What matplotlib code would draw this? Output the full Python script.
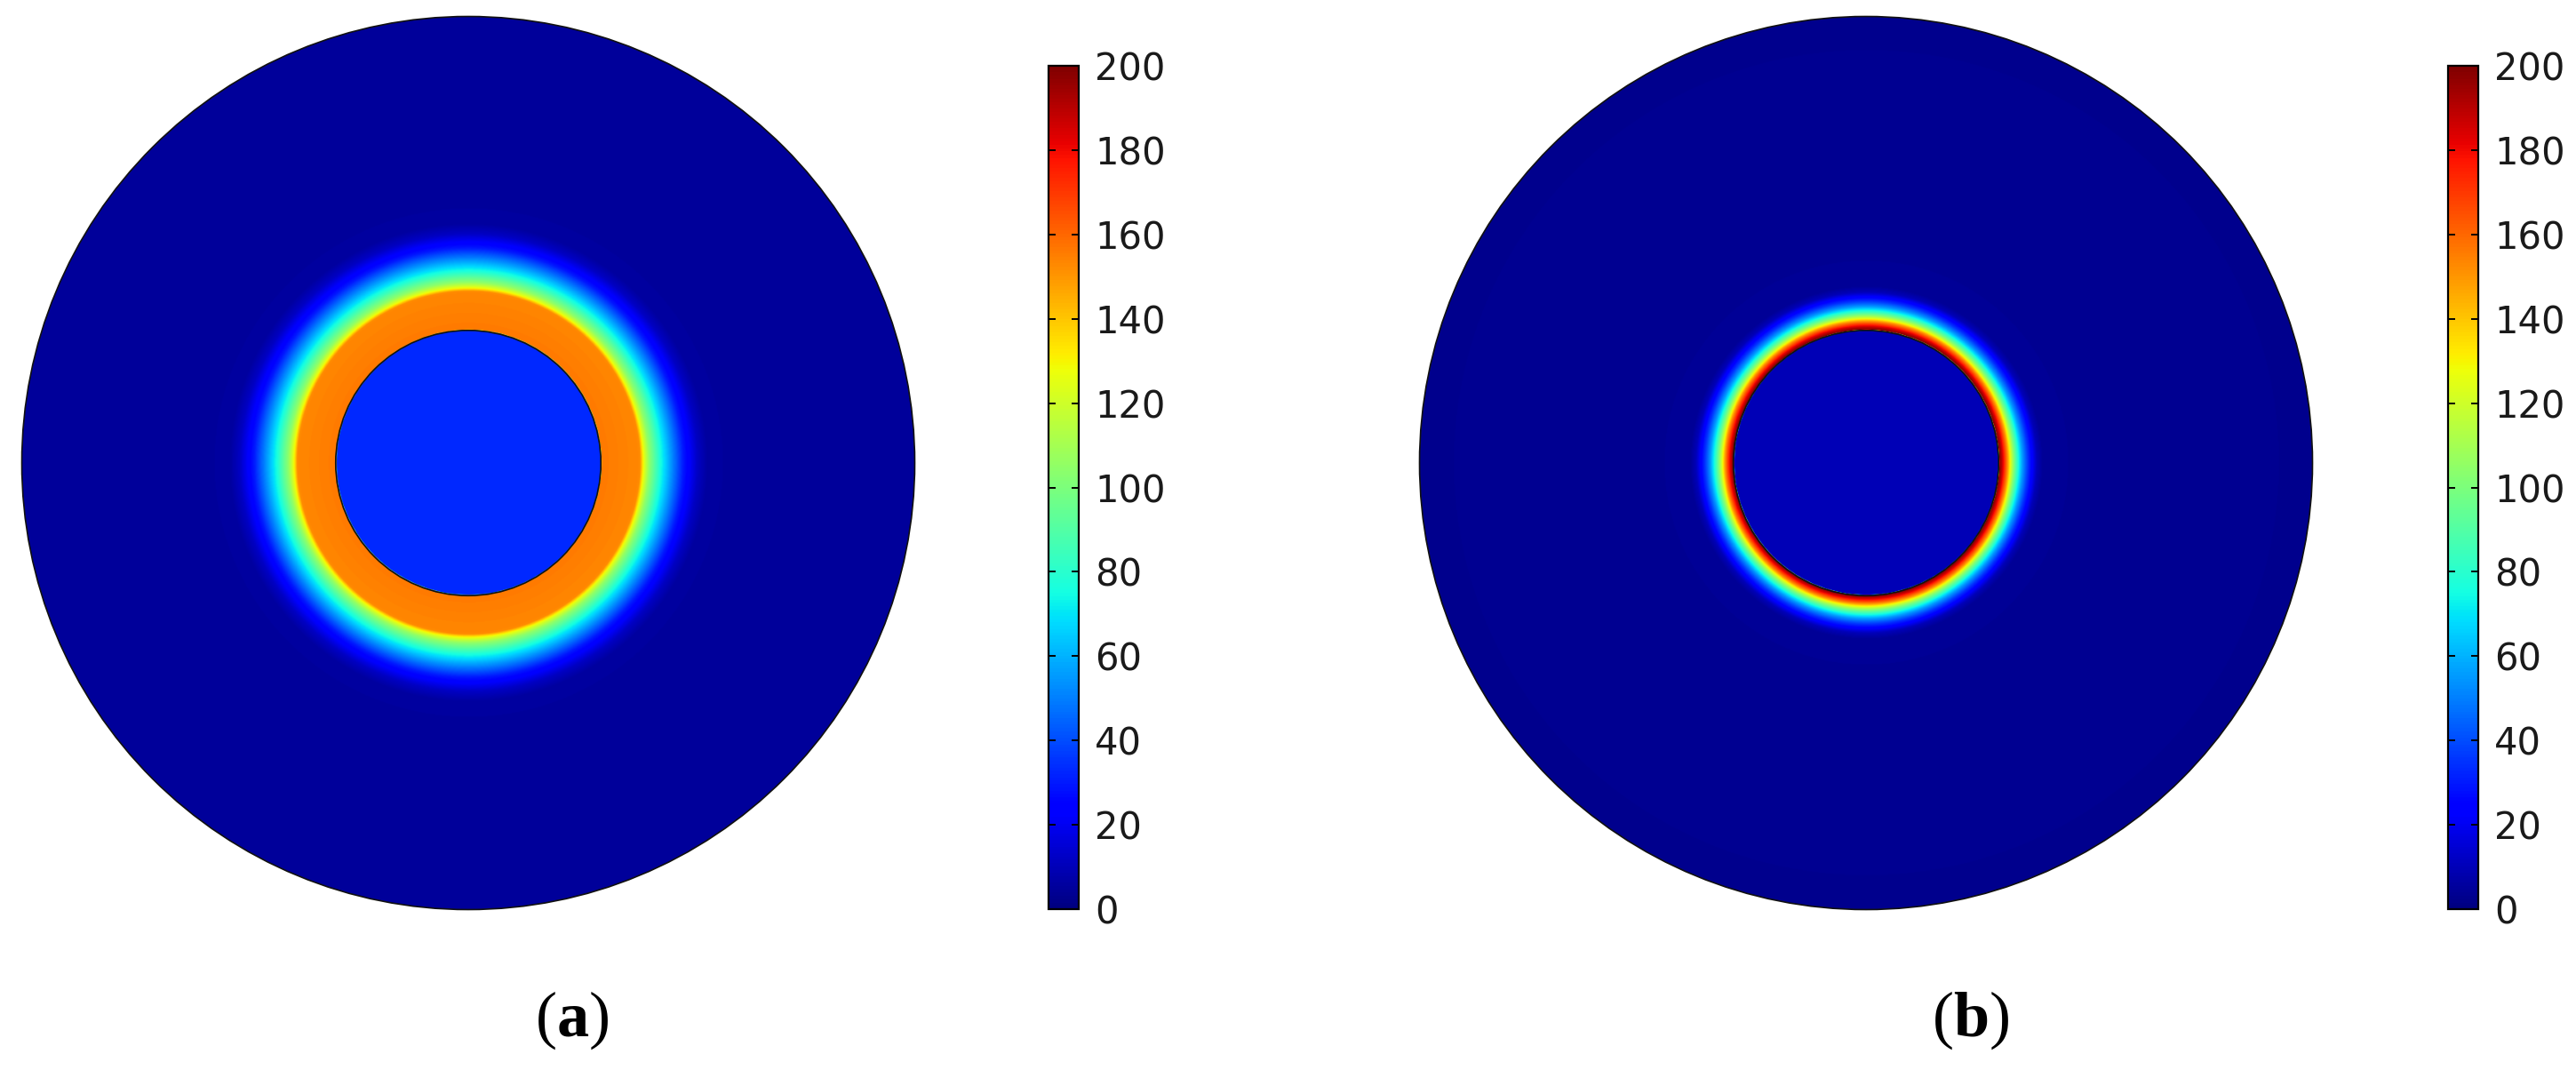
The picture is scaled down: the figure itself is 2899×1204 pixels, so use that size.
import numpy as np
import matplotlib
matplotlib.use("Agg")
import matplotlib.pyplot as plt
from matplotlib.patches import Circle

# Perfiles radiales (r normalizado al radio exterior del disco)
r_inner = 0.297

r_a = [0.0, 0.296, 0.298, 0.384, 0.392, 0.404, 0.428, 0.453, 0.481, 0.513, 0.535, 0.60, 1.0]
conc_a = [33, 33, 156, 153, 127, 105, 78, 55, 30, 12, 6, 5, 5]

r_b = [0.0, 0.296, 0.298, 0.301, 0.307, 0.317, 0.323, 0.331, 0.341, 0.350, 0.362, 0.382, 0.396, 1.0]
conc_b = [10, 10, 200, 195, 180, 150, 125, 100, 75, 55, 35, 10, 4, 3]

cbar_ticks = [0, 20, 40, 60, 80, 100, 120, 140, 160, 180, 200]
panel_labels = ["a", "b"]

W, H = 2899, 1204

plt.rcParams.update({
    "mathtext.fontset": "custom",
    "mathtext.rm": "Liberation Serif",
    "mathtext.bf": "Liberation Serif:bold",
})

fig = plt.figure(figsize=(W / 100, H / 100), dpi=100)


def px_axes(left, top, width, height):
    """Crea ejes a partir de coordenadas en píxeles (origen arriba-izquierda)."""
    return fig.add_axes([left / W, (H - top - height) / H, width / W, height / H])


def draw_panel(x_disk, x_cbar, x_label, r_prof, c_prof, label):
    ax = px_axes(x_disk, 16, 1010, 1010)
    ax.set_xlim(-1.005, 1.005)
    ax.set_ylim(-1.005, 1.005)
    ax.set_aspect("equal")
    ax.axis("off")

    xs = np.linspace(-1, 1, 1200)
    xx, yy = np.meshgrid(xs, xs)
    rr = np.hypot(xx, yy)
    field = np.interp(rr, r_prof, c_prof)

    im = ax.imshow(field, extent=(-1, 1, -1, 1), origin="lower",
                   cmap="jet", vmin=0, vmax=200, interpolation="bilinear")
    disk = Circle((0, 0), 1.0, transform=ax.transData, facecolor="none",
                  edgecolor="none")
    ax.add_patch(disk)
    im.set_clip_path(disk)

    ax.add_patch(Circle((0, 0), 1.0, facecolor="none", edgecolor="#111111",
                        linewidth=1.2))
    ax.add_patch(Circle((0, 0), r_inner, facecolor="none", edgecolor="#111111",
                        linewidth=1.2))

    cax = px_axes(x_cbar, 74, 34, 949)
    cb = fig.colorbar(im, cax=cax, ticks=cbar_ticks)
    cb.outline.set_linewidth(1.6)
    cb.ax.minorticks_off()
    cb.ax.tick_params(axis="y", direction="in", left=True, right=True,
                      labelleft=False, labelright=True, length=6, width=1.4,
                      pad=13, labelsize=30, labelcolor="#1a1a1a")

    fig.text(x_label / W, 56 / H, r"($\mathbf{%s}$)" % label,
             family="Liberation Serif", fontsize=52, ha="center", va="center")


draw_panel(22, 1180, 644, r_a, conc_a, panel_labels[0])
draw_panel(1595, 2755, 2218, r_b, conc_b, panel_labels[1])

fig.savefig("out.png", dpi=100, facecolor="white")
